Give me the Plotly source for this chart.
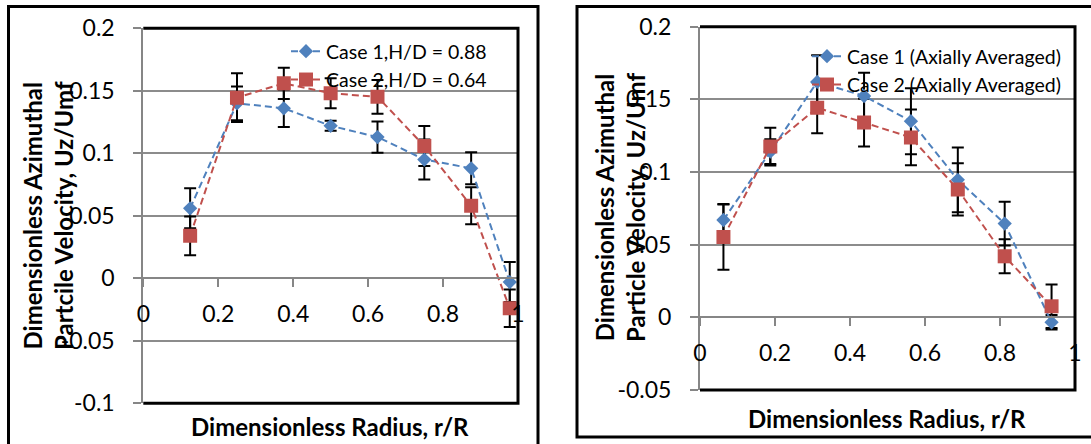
import plotly.graph_objects as go

# ---------------- data ----------------
x_left = [0.125, 0.25, 0.375, 0.5, 0.625, 0.75, 0.875, 0.978]
case1_left = [0.056, 0.140, 0.136, 0.122, 0.113, 0.095, 0.088, -0.003]
case1_left_err = [0.016, 0.0135, 0.015, 0.004, 0.0125, 0.016, 0.0128, 0.016]
case2_left = [0.034, 0.1445, 0.156, 0.148, 0.1452, 0.1058, 0.058, -0.024]
case2_left_err = [0.0155, 0.0195, 0.0125, 0.012, 0.0135, 0.016, 0.0148, 0.015]

x_right = [0.0625, 0.1875, 0.3125, 0.4375, 0.5625, 0.6875, 0.8125, 0.9375]
case1_right = [0.067, 0.114, 0.162, 0.1523, 0.135, 0.0946, 0.0645, -0.0034]
case1_right_err = [0.011, 0.0085, 0.0184, 0.016, 0.0227, 0.0222, 0.015, 0.005]
case2_right = [0.0552, 0.1175, 0.1442, 0.134, 0.1238, 0.088, 0.042, 0.0076]
case2_right_err = [0.0224, 0.013, 0.0176, 0.0165, 0.0192, 0.018, 0.0117, 0.015]

names_left = ["Case 1,H/D = 0.88", "Case 2,H/D = 0.64"]
names_right = ["Case 1 (Axially Averaged)", "Case 2 (Axially Averaged)"]

x_tickvals = [0, 0.2, 0.4, 0.6, 0.8, 1]
x_ticktext = ["0", "0.2", "0.4", "0.6", "0.8", "1"]
yl_tickvals = [-0.1, -0.05, 0, 0.05, 0.1, 0.15, 0.2]
yl_ticktext = ["-0.1", "-0.05", "0", "0.05", "0.1", "0.15", "0.2"]
yr_tickvals = [-0.05, 0, 0.05, 0.1, 0.15, 0.2]
yr_ticktext = ["-0.05", "0", "0.05", "0.1", "0.15", "0.2"]

x_title = "Dimensionless Radius, r/R"
y_title_left = "Dimensionless Azimuthal<br>Partcile Velocity, Uz/Umf"
y_title_right = "Dimensionless Azimuthal<br>Particle Velocity, Uz/Umf"

# ---------------- styling ----------------
W, H = 1091, 444
FONT = "Lato"
BLUE = "#4F81BD"
RED = "#C0504D"
GRID = "#8C8C8C"
AXIS = "#868686"


def px(x):
    return x / W


def py(y):
    return 1 - y / H


L_dom_x = [px(143.3), px(518)]
L_dom_y = [py(403.3), py(28.3)]
R_dom_x = [px(700), px(1075)]
R_dom_y = [py(390), py(26.7)]
L_yr = [-0.1, 0.2]
R_yr = [-0.05, 0.2]


def zero_pos(dom, rng):
    return dom[0] + (0 - rng[0]) / (rng[1] - rng[0]) * (dom[1] - dom[0])


fig = go.Figure()


def add_series(x, y, err, name, color, symbol, size, xa, ya, legend):
    # error bars first so markers sit on top
    fig.add_trace(go.Scatter(
        x=x, y=y, mode="markers", xaxis=xa, yaxis=ya, showlegend=False,
        hoverinfo="skip",
        marker=dict(size=1, color="rgba(0,0,0,0)"),
        error_y=dict(type="data", array=err, visible=True, color="black",
                     thickness=2, width=6),
    ))
    return dict(x=x, y=y, name=name, color=color, symbol=symbol, size=size,
                xa=xa, ya=ya, legend=legend)


series = [
    add_series(x_left, case1_left, case1_left_err, names_left[0], BLUE, "diamond", 11, "x", "y", "legend"),
    add_series(x_left, case2_left, case2_left_err, names_left[1], RED, "square", 14, "x", "y", "legend"),
    add_series(x_right, case1_right, case1_right_err, names_right[0], BLUE, "diamond", 11, "x2", "y2", "legend2"),
    add_series(x_right, case2_right, case2_right_err, names_right[1], RED, "square", 14, "x2", "y2", "legend2"),
]
for s in series:
    fig.add_trace(go.Scatter(
        x=s["x"], y=s["y"], name=s["name"], mode="lines+markers",
        xaxis=s["xa"], yaxis=s["ya"], legend=s["legend"],
        line=dict(color=s["color"], width=2, dash="7px,4px"),
        marker=dict(symbol=s["symbol"], size=s["size"], color=s["color"],
                    line=dict(width=0)),
    ))

tickfont = dict(family=FONT, size=23, color="black")

xaxis_common = dict(range=[0, 1], tickvals=x_tickvals, ticktext=x_ticktext,
                    showgrid=False, zeroline=False, showline=True,
                    linecolor=AXIS, linewidth=2, ticks="outside", ticklen=8,
                    tickwidth=2, tickcolor=AXIS, tickfont=tickfont,
                    ticklabelstandoff=7, anchor="free", side="bottom",
                    automargin=False)
yaxis_common = dict(showgrid=True, gridcolor=GRID, gridwidth=2, zeroline=False,
                    showline=True, linecolor=AXIS, linewidth=2,
                    ticks="outside", ticklen=8, tickwidth=2, tickcolor=AXIS,
                    tickfont=tickfont, ticklabelstandoff=14, automargin=False)

fig.update_layout(
    width=W, height=H,
    margin=dict(l=0, r=0, t=0, b=0, autoexpand=False),
    paper_bgcolor="white", plot_bgcolor="white",
    font=dict(family=FONT, color="black"),
    xaxis=dict(domain=L_dom_x, position=zero_pos(L_dom_y, L_yr), **xaxis_common),
    yaxis=dict(domain=L_dom_y, range=L_yr, tickvals=yl_tickvals,
               ticktext=yl_ticktext, anchor="x", **yaxis_common),
    xaxis2=dict(domain=R_dom_x, position=zero_pos(R_dom_y, R_yr), **xaxis_common),
    yaxis2=dict(domain=R_dom_y, range=R_yr, tickvals=yr_tickvals,
                ticktext=yr_ticktext, anchor="x2", **yaxis_common),
    legend=dict(x=px(286), y=py(32), xanchor="left", yanchor="top",
                bgcolor="rgba(0,0,0,0)", font=dict(family=FONT, size=19.5),
                tracegroupgap=0),
    legend2=dict(x=px(807), y=py(37), xanchor="left", yanchor="top",
                 bgcolor="rgba(0,0,0,0)", font=dict(family=FONT, size=19.5),
                 tracegroupgap=0),
)

shapes = []
# outer frames
shapes.append(dict(type="rect", xref="paper", yref="paper",
                   x0=px(8.5), x1=px(538), y0=py(460), y1=py(6.5),
                   line=dict(color="black", width=3), layer="below"))
shapes.append(dict(type="rect", xref="paper", yref="paper",
                   x0=px(577), x1=px(1110), y0=py(437), y1=py(6.5),
                   line=dict(color="black", width=3), layer="below"))
# plot-area borders (top, right, bottom)
for xr, yr in (("x domain", "y domain"), ("x2 domain", "y2 domain")):
    shapes.append(dict(type="path", xref=xr, yref=yr,
                       path="M 0,1 L 1,1 L 1,0 L 0,0",
                       line=dict(color="black", width=3)))
fig.update_layout(shapes=shapes)

title_font = dict(family=FONT, size=24, color="black", weight="bold")
ann_common = dict(xref="paper", yref="paper", showarrow=False,
                  xanchor="center", yanchor="middle", font=title_font)
fig.add_annotation(text=x_title, x=px(330), y=py(426), **ann_common)
fig.add_annotation(text=x_title, x=px(887), y=py(418), **ann_common)
fig.add_annotation(text=y_title_left, x=px(48), y=py(216), textangle=-90,
                   **ann_common)
fig.add_annotation(text=y_title_right, x=px(620), y=py(208), textangle=-90,
                   **ann_common)

fig.write_html("out.html")
